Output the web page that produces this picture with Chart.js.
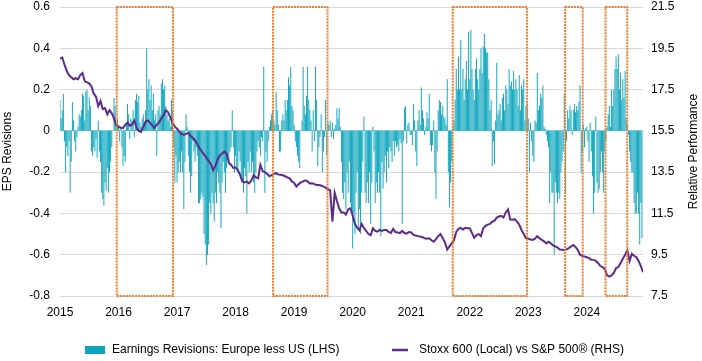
<!DOCTYPE html>
<html>
<head>
<meta charset="utf-8">
<script src="https://cdn.jsdelivr.net/npm/chart.js@4.4.1/dist/chart.umd.min.js"></script>
<style>
  html, body { margin: 0; padding: 0; background: #fff; }
  #wrap { width: 702px; height: 361px; }
</style>
</head>
<body>
<div id="wrap"><canvas id="chart"></canvas></div>
<script>
// weekly EPS revision spread (LHS), one array per calendar year
const years = [2015, 2016, 2017, 2018, 2019, 2020, 2021, 2022, 2023, 2024];

const revisions2015 = [0.15,0.06,0.1,0.18, -0.05,-0.2,-0.08,-0.12, -0.05,-0.3,-0.15,0.14, 0.05,-0.05,-0.1,-0.03,
  0.02,0.08,0.07,0.1, 0.18,0.17,0.05,0.19, 0.2,0.1,0.16,0.12, -0.1,-0.12,-0.08,-0.1, -0.04,-0.13,0.05,-0.1,
  -0.15,-0.3,-0.33,-0.36, -0.25,-0.29,-0.18,-0.3, -0.2,-0.15,-0.08,0.0, 0.16,0.12,0.04,0.06];
const revisions2016 = [0.03,-0.05,0.02,-0.08, -0.17,-0.12,-0.15,0.04, 0.13,0.08,-0.04,0.06, 0.05,0.1,-0.03,0.15,
  0.18,0.14,0.17,0.04, 0.02,0.06,0.08,0.03, 0.1,0.4,0.2,0.25, 0.15,0.22,0.1,0.18, 0.05,0.08,-0.12,0.1,
  0.12,0.08,0.23,0.25, 0.2,0.22,0.12,0.08, 0.05,0.06,0.02,0.15, 0.1,-0.08,-0.25,-0.12];
const revisions2017 = [-0.25,-0.2,-0.15,-0.2, -0.1,-0.2,-0.38,-0.15, 0.08,0.02,-0.12,-0.2, -0.3,-0.22,-0.05,-0.1,
  -0.15,-0.08,-0.12,-0.35, -0.35,-0.33,-0.3,-0.32, -0.5,-0.55,-0.65,-0.6, -0.55,-0.35,-0.4,-0.3, -0.35,-0.44,-0.3,-0.35,
  -0.2,-0.25,-0.3,-0.47, -0.25,-0.15,-0.2,-0.3, -0.18,-0.12,-0.15,-0.1, -0.08,0.1,-0.08,-0.2];
const revisions2018 = [-0.12,-0.18,-0.2,-0.1, -0.15,-0.22,-0.25,-0.3, -0.18,-0.22,-0.4,-0.15, -0.2,-0.1,-0.2,-0.15,
  -0.25,-0.3,-0.2,-0.1, -0.05,-0.08,-0.12,-0.03, -0.05,0.31,-0.3,-0.1, -0.15,-0.05,0.02,0.05, 0.08,0.1,0.05,0.03,
  0.19,0.1,0.03,-0.1, -0.1,0.05,0.08,0.05, 0.15,0.1,0.15,0.26, 0.22,0.31,0.12,0.1];
const revisions2019 = [0.03,-0.05,-0.08,-0.12, -0.15,-0.18,0.0,0.05, 0.31,0.12,0.08,0.17, 0.31,0.15,0.1,0.05,
  -0.1,0.1,-0.05,0.31, 0.15,-0.17,-0.08,-0.03, 0.08,-0.2,-0.1,-0.03, 0.15,-0.12,0.04,0.03, 0.05,-0.03,0.04,-0.04,
  0.01,0.03,0.11,0.06, 0.11,0.02,-0.15,-0.3, -0.33,-0.25,-0.38,-0.2, -0.3,-0.15,-0.35,-0.4];
const revisions2020 = [-0.57,-0.4,-0.5,-0.3, -0.2,-0.47,-0.38,-0.5, -0.3,-0.15,0.07,-0.3, -0.35,-0.25,-0.35,-0.2,
  -0.45,-0.25,0.02,-0.1, -0.35,-0.25,-0.3,-0.2, -0.3,-0.51,-0.15,-0.28, -0.2,-0.12,-0.25,-0.1, -0.18,-0.08,-0.1,-0.15,
  -0.05,-0.12,-0.05,-0.08, -0.07,-0.1,-0.04,-0.06, -0.45,-0.05,0.11,0.12, -0.06,0.03,0.04,-0.02];
const revisions2021 = [-0.02,-0.07,0.13,0.05, -0.1,-0.17,0.05,0.1, 0.03,0.21,0.1,0.06, -0.02,0.02,0.09,0.06,
  0.18,-0.07,-0.1,-0.07, 0.05,-0.2,-0.33,-0.1, 0.1,0.15,0.14,0.08, 0.12,0.07,0.06,0.03, 0.25,-0.2,-0.37,-0.25,
  -0.15,0.02,0.05,0.15, 0.3,0.2,0.36,0.2, 0.44,0.2,0.3,0.15, 0.25,0.34,0.2,0.48];
const revisions2022 = [0.25,0.49,0.3,0.2, 0.15,0.3,0.35,0.25, 0.2,0.3,0.4,0.28, 0.41,0.47,0.4,0.38,
  0.38,0.25,0.1,0.15, -0.17,-0.05,-0.16,0.05, 0.33,0.08,0.1,0.13, 0.05,0.16,0.18,0.1, 0.22,0.2,0.13,0.3,
  0.22,0.24,0.2,0.29, 0.2,0.25,0.2,0.12, 0.27,0.1,0.22,0.2, 0.25,0.05,0.12,0.14];
const revisions2023 = [0.06,-0.2,0.04,-0.05, -0.12,-0.15,0.05,0.04, 0.28,0.1,0.12,0.18, 0.16,0.22,0.02,0.01,
  -0.02,-0.05,-0.08,-0.35, -0.2,-0.3,-0.3,-0.6, -0.25,-0.3,-0.35,-0.3, -0.33,-0.2,-0.15,-0.1, 0.18,-0.3,-0.05,0.1,
  0.06,0.12,0.1,-0.02, 0.1,0.13,0.09,0.12, 0.1,0.14,0.22,-0.2, -0.1,0.03,-0.08,0.01];
const revisions2024 = [0.02,-0.05,-0.15,0.04, -0.1,-0.22,-0.4,-0.3, 0.07,-0.25,-0.3,-0.28, -0.2,-0.1,-0.2,-0.3,
  -0.1,-0.05,0.02,0.08, 0.12,0.02,0.2,0.12, 0.2,0.3,0.36,0.3, 0.37,0.2,0.28,0.15, 0.25,0.16,0.29,0.06,
  0.03,-0.02,-0.1,-0.15, -0.2,-0.2,-0.35,-0.4, -0.4,-0.3,-0.4,-0.55, -0.35,-0.52];

// Stoxx 600 vs S&P 500 relative performance (RHS), every two weeks
const relPerf2015 = [19.0,19.05,18.7,18.4,18.2,18.1,18.0,18.05,18.0,18.2,18.3,17.9,17.85,17.8,17.65,17.3,17.15,16.7,16.95,16.55,16.6,16.3,16.5,16.35,16.1,15.75];
const relPerf2016 = [15.7,15.65,15.63,15.8,15.9,15.75,15.8,16.0,15.65,15.5,15.45,15.7,15.95,16.0,15.9,15.75,15.65,15.8,15.9,16.1,16.25,16.5,16.4,16.15,15.9,15.7];
const relPerf2017 = [15.6,15.45,15.35,15.3,15.35,15.4,15.25,15.15,15.05,14.85,14.65,14.5,14.35,14.2,14.05,13.9,13.6,13.8,14.1,14.3,14.4,14.5,14.4,13.95,13.85,13.7];
const relPerf2018 = [13.72,13.6,13.37,13.05,13.0,13.04,12.96,13.1,13.35,13.25,13.2,13.85,13.55,13.5,13.42,13.3,13.35,13.42,13.45,13.38,13.37,13.35,13.3,13.25,13.2,13.05];
const relPerf2019 = [12.98,12.8,12.92,13.0,13.05,13.1,13.05,12.95,12.96,12.92,12.88,12.88,12.85,12.8,12.75,12.68,12.62,11.1,12.5,12.1,11.75,11.55,11.55,11.45,11.7,11.75];
const relPerf2020 = [11.4,11.0,10.8,10.68,10.99,10.8,10.65,10.5,10.45,10.78,10.65,10.62,10.7,10.65,10.7,10.7,10.6,10.55,10.75,10.6,10.58,10.55,10.65,10.55,10.52,10.6];
const relPerf2021 = [10.58,10.46,10.43,10.4,10.38,10.35,10.3,10.28,10.3,10.2,10.13,10.25,10.4,10.5,10.3,10.1,9.75,9.9,10.05,10.2,10.6,10.75,10.8,10.72,10.8,10.78];
const relPerf2022 = [10.78,10.55,10.32,10.45,10.5,10.4,10.78,10.9,10.96,10.99,11.1,11.15,11.3,11.35,11.38,11.3,11.55,11.7,11.2,11.19,11.22,11.1,10.95,10.7,10.5,10.3];
const relPerf2023 = [10.27,10.24,10.22,10.28,10.4,10.3,10.22,10.15,10.05,10.13,10.05,9.95,9.9,9.85,9.75,9.74,9.72,9.76,9.82,9.9,9.97,9.88,9.73,9.5,9.44,9.41];
const relPerf2024 = [9.38,9.33,9.26,9.25,9.2,9.1,8.95,8.9,8.8,8.5,8.44,8.5,8.62,8.85,8.9,9.1,9.3,9.5,9.72,9.2,9.55,9.45,9.38,9.2,8.95,8.65];

// highlighted periods (fractional years)
const boxStarts = [2015.97, 2018.64, 2021.71, 2023.63, 2024.32];
const boxEnds = [2016.93, 2019.57, 2022.98, 2023.93, 2024.69];

const barLabel = 'Earnings Revisions: Europe less US (LHS)';
const lineLabel = 'Stoxx 600 (Local) vs S&P 500\u00AE (RHS)';

const revisionsByYear = [revisions2015, revisions2016, revisions2017, revisions2018, revisions2019,
  revisions2020, revisions2021, revisions2022, revisions2023, revisions2024];
const relPerfByYear = [relPerf2015, relPerf2016, relPerf2017, relPerf2018, relPerf2019,
  relPerf2020, relPerf2021, relPerf2022, relPerf2023, relPerf2024];

const barPoints = [];
revisionsByYear.forEach((arr, i) => {
  arr.forEach((v, w) => barPoints.push({ x: years[i] + w / 52, y: v }));
});
const linePoints = [];
relPerfByYear.forEach((arr, i) => {
  arr.forEach((v, k) => linePoints.push({ x: years[i] + (2 * k) / 52, y: v }));
});

const FONT = "'Liberation Sans', Arial, sans-serif";
const TEAL = '#0ba5bd';
const PURPLE = '#5c2a8a';
const ORANGE = '#ee7d2c';

const overlayPlugin = {
  id: 'overlay',
  afterDatasetsDraw(chart) {
    const { ctx, scales } = chart;
    const top = scales.y.getPixelForValue(0.6);
    const bottom = scales.y.getPixelForValue(-0.8);
    ctx.save();
    ctx.strokeStyle = ORANGE;
    ctx.lineWidth = 2;
    ctx.setLineDash([2, 1]);
    boxStarts.forEach((start, i) => {
      const x1 = scales.x.getPixelForValue(start);
      const x2 = scales.x.getPixelForValue(boxEnds[i]);
      ctx.strokeRect(x1, top, x2 - x1, bottom - top);
    });
    ctx.restore();
  },
  afterDraw(chart) {
    const { ctx, chartArea } = chart;
    const midY = (chartArea.top + chartArea.bottom) / 2;
    ctx.save();
    ctx.fillStyle = '#000';
    ctx.font = '12px ' + FONT;
    ctx.textAlign = 'center';
    ctx.textBaseline = 'middle';

    ctx.save();
    ctx.translate(8, midY);
    ctx.rotate(-Math.PI / 2);
    ctx.fillText('EPS Revisions', 0, 0);
    ctx.restore();

    ctx.save();
    ctx.translate(694, midY);
    ctx.rotate(-Math.PI / 2);
    ctx.fillText('Relative Performance', 0, 0);
    ctx.restore();

    // legend
    const ly = 350;
    ctx.textAlign = 'left';
    ctx.fillStyle = TEAL;
    ctx.fillRect(85, ly - 4, 20, 8);
    ctx.fillStyle = '#000';
    ctx.fillText(barLabel, 112, ly);
    ctx.strokeStyle = PURPLE;
    ctx.lineWidth = 2.5;
    ctx.beginPath();
    ctx.moveTo(392, ly);
    ctx.lineTo(408, ly);
    ctx.stroke();
    ctx.fillText(lineLabel, 419, ly);
    ctx.restore();
  }
};

const ctx = document.getElementById('chart').getContext('2d');
new Chart(ctx, {
  type: 'bar',
  data: {
    datasets: [
      {
        type: 'line',
        label: lineLabel,
        data: linePoints,
        yAxisID: 'y1',
        borderColor: PURPLE,
        borderWidth: 2,
        pointRadius: 0,
        tension: 0,
        order: 1
      },
      {
        type: 'bar',
        label: barLabel,
        data: barPoints,
        yAxisID: 'y',
        backgroundColor: TEAL,
        categoryPercentage: 1,
        barPercentage: 0.85,
        order: 2
      }
    ]
  },
  options: {
    animation: false,
    responsive: true,
    maintainAspectRatio: false,
    layout: { padding: 0 },
    plugins: {
      legend: { display: false },
      tooltip: { enabled: false }
    },
    scales: {
      x: {
        type: 'linear',
        min: 2015,
        max: 2024.96,
        offset: false,
        grid: { display: false, drawTicks: false },
        border: { display: false },
        ticks: {
          stepSize: 1,
          includeBounds: false,
          autoSkip: false,
          maxRotation: 0,
          padding: 9,
          color: '#000',
          font: { family: FONT, size: 12 },
          callback: v => String(v)
        },
        afterFit: s => { s.height = 65; }
      },
      y: {
        position: 'left',
        min: -0.8,
        max: 0.6,
        grid: {
          color: c => (c.tick && Math.abs(c.tick.value) < 1e-9 ? '#9dd7e0' : '#d9d9d9'),
          drawTicks: false
        },
        border: { display: false },
        ticks: {
          stepSize: 0.2,
          padding: 10,
          color: '#000',
          font: { family: FONT, size: 12 },
          callback: v => (Math.abs(v) < 1e-9 ? '0' : v.toFixed(1))
        },
        afterFit: s => { s.width = 60; s.paddingTop = 7; }
      },
      y1: {
        position: 'right',
        min: 7.5,
        max: 21.5,
        grid: { display: false, drawTicks: false },
        border: { display: false },
        ticks: {
          stepSize: 2,
          padding: 8,
          color: '#000',
          font: { family: FONT, size: 12 }
        },
        afterFit: s => { s.width = 59; s.paddingTop = 7; }
      }
    }
  },
  plugins: [overlayPlugin]
});
</script>
</body>
</html>
